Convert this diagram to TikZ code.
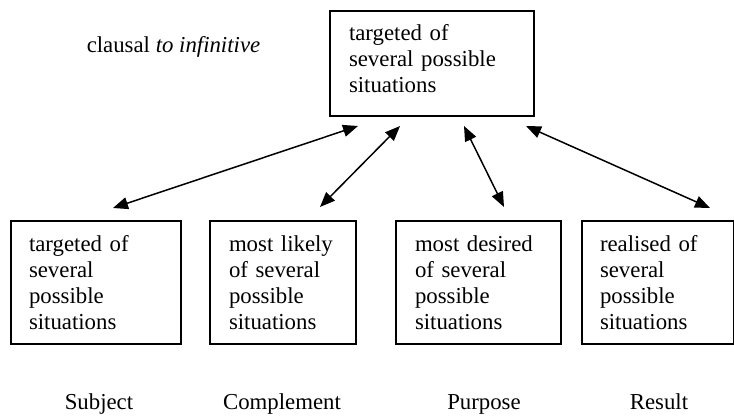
\documentclass[tikz,border=0pt]{standalone}
\usepackage{fontspec}
\setmainfont{Liberation Serif}
\usetikzlibrary{arrows.meta}

\begin{document}
\begin{tikzpicture}[x=0.5pt, y=-0.5pt,
  font=\fontsize{11.4}{13}\selectfont,
  sitbox/.style={draw, line width=1pt, anchor=north west, align=left,
    inner ysep=0pt, minimum height=61.5pt},
  link/.style={line width=0.75pt, {Triangle[length=7.5pt,width=6pt]}-{Triangle[length=7.5pt,width=6pt]}}]
  \useasboundingbox (0,0) rectangle (734,416);

  % top box
  \node[sitbox, inner xsep=9.5pt, text width=83pt, minimum height=52.5pt] (top) at (329,10)
    {targeted of\\several possible\\situations\rule[-5pt]{0pt}{5pt}};
  \node[anchor=base] (title) at (173.5,53) {clausal \textit{to infinitive}};

  % bottom boxes
  \node[sitbox, inner xsep=9pt, text width=67pt] (subj) at (10,220)
    {targeted of\\several\\possible\\situations};
  \node[sitbox, inner xsep=9.5pt, text width=54pt] (comp) at (209,220)
    {most likely\\of several\\possible\\situations};
  \node[sitbox, inner xsep=9.5pt, text width=63.5pt] (purp) at (395,220)
    {most desired\\of several\\possible\\situations};
  \node[sitbox, inner xsep=9pt, text width=58pt] (res) at (581,220)
    {realised of\\several\\possible\\situations};

  % labels under the boxes
  \node[anchor=base] (subjlab) at (99,410) {Subject};
  \node[anchor=base] (complab) at (282,410) {Complement};
  \node[anchor=base] (purplab) at (484,410) {Purpose};
  \node[anchor=base] (reslab) at (659,410) {Result};

  % arrow ends
  \coordinate (t1) at (358,126);
  \coordinate (t2) at (400,126);
  \coordinate (t3) at (464,126);
  \coordinate (t4) at (526,126);
  \coordinate (b1) at (113,208);
  \coordinate (b2) at (320,207);
  \coordinate (b3) at (504,207);
  \coordinate (b4) at (710,208);

  \draw[link] (b1) -- (t1);
  \draw[link] (b2) -- (t2);
  \draw[link] (b3) -- (t3);
  \draw[link] (b4) -- (t4);
\end{tikzpicture}
\end{document}
